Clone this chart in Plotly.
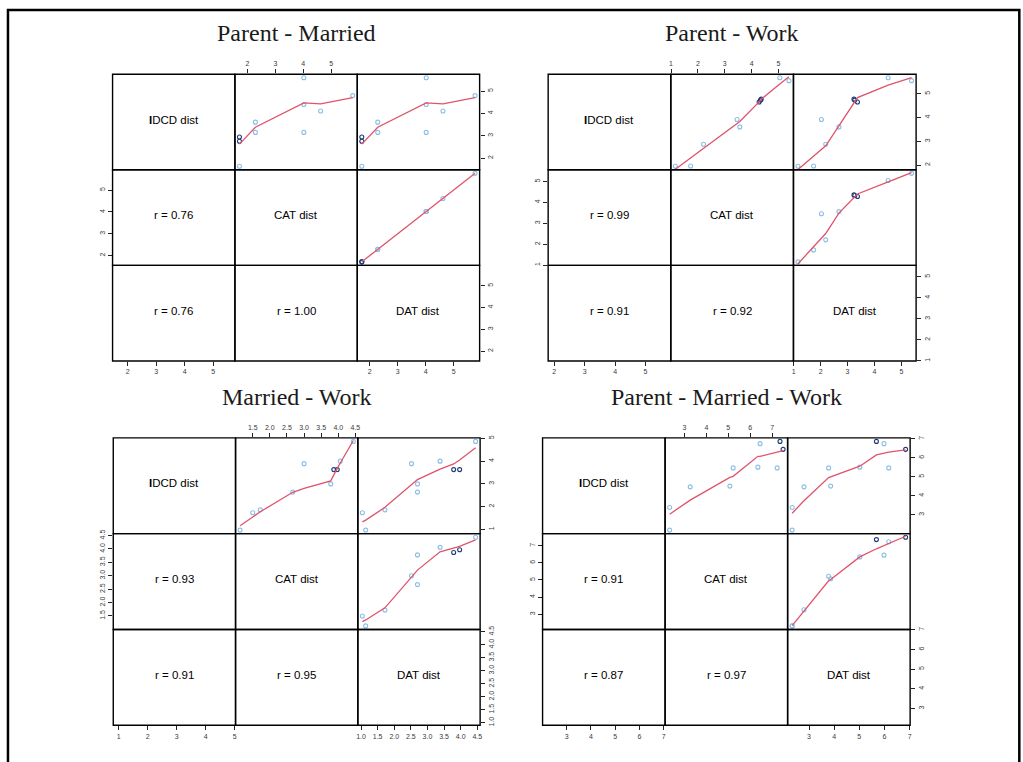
import numpy as np
import plotly.graph_objects as go

W, H = 1023, 762

# ---- Parent - Married ----
pm_idcd = [1.63, 2.75, 2.94, 3.15, 3.61, 3.15, 4.40, 5.60, 4.11, 4.80]
pm_cat = [1.715, 1.715, 1.715, 2.285, 2.285, 4.02, 4.02, 4.02, 4.62, 5.77]
pm_dat = [1.715, 1.715, 1.715, 2.285, 2.285, 4.02, 4.02, 4.02, 4.62, 5.77]
pm_flag = [0, 1, 1, 0, 0, 0, 0, 0, 0, 0]
pm_r = ["0.76", "0.76", "1.00"]
pm_ticks = (["2", "3", "4", "5"], ["2", "3", "4", "5"], ["2", "3", "4", "5"])

# ---- Parent - Work ----
pw_idcd = [1.95, 1.96, 2.88, 3.92, 3.61, 4.66, 4.74, 4.78, 5.68, 5.56]
pw_cat = [1.16, 1.73, 2.21, 3.46, 3.56, 4.28, 4.33, 4.36, 5.05, 5.39]
pw_dat = [1.16, 1.74, 2.19, 2.03, 2.68, 3.37, 3.27, 3.24, 4.51, 5.38]
pw_flag = [0, 0, 0, 0, 0, 1, 1, 1, 0, 0]
pw_r = ["0.99", "0.91", "0.92"]
pw_ticks = (["2", "3", "4", "5"], ["1", "2", "3", "4", "5"], ["1", "2", "3", "4", "5"])

# ---- Married - Work ----
mw_idcd = [0.97, 1.73, 1.86, 2.64, 3.89, 3.00, 3.63, 3.63, 4.00, 4.87]
mw_cat = [1.13, 1.50, 1.72, 2.67, 3.00, 3.78, 3.87, 3.97, 4.06, 4.44]
mw_dat = [1.14, 1.04, 1.72, 2.70, 2.52, 2.70, 3.79, 3.97, 3.38, 4.45]
mw_flag = [0, 0, 0, 0, 0, 0, 1, 1, 0, 0]
mw_r = ["0.93", "0.91", "0.95"]
mw_ticks = (["1", "2", "3", "4", "5"],
            ["1.5", "2.0", "2.5", "3.0", "3.5", "4.0", "4.5"],
            ["1.0", "1.5", "2.0", "2.5", "3.0", "3.5", "4.0", "4.5"])

# ---- Parent - Married - Work ----
pmw_idcd = [2.19, 3.38, 4.47, 4.51, 5.47, 5.51, 6.75, 5.47, 6.87, 6.45]
pmw_cat = [2.32, 2.32, 3.26, 5.07, 5.22, 6.35, 6.45, 7.23, 7.36, 7.50]
pmw_dat = [2.33, 2.33, 2.80, 3.86, 3.78, 5.02, 5.98, 6.17, 5.68, 6.84]
pmw_flag = [0, 0, 0, 0, 0, 0, 0, 0, 1, 1]
pmw_r = ["0.91", "0.87", "0.97"]
pmw_ticks = (["3", "4", "5", "6", "7"], ["3", "4", "5", "6", "7"], ["3", "4", "5", "6", "7"])

var_names = ["<b>I</b>DCD dist", "CAT dist", "DAT dist"]

LIGHT = "#8dbfe5"
DARK = "#1e3c78"
SMOOTH = "#DF536B"
SANS = "Liberation Sans, Arial, sans-serif"
SERIF = "Liberation Serif, Times New Roman, serif"


def _lowest(x, y, xs, nleft, nright, userw, rw):
    n = len(x)
    rng = x[-1] - x[0]
    h = max(xs - x[nleft], x[nright] - xs)
    h9, h1 = 0.999 * h, 0.001 * h
    w = np.zeros(n)
    a = 0.0
    j = nleft
    while j < n:
        r = abs(x[j] - xs)
        if r <= h9:
            w[j] = 1.0 if r <= h1 else (1 - (r / h) ** 3) ** 3
            if userw:
                w[j] *= rw[j]
            a += w[j]
        elif x[j] > xs:
            break
        j += 1
    nrt = j - 1
    if a <= 0:
        return None
    sl = slice(nleft, nrt + 1)
    w[sl] /= a
    if h > 0:
        a = np.sum(w[sl] * x[sl])
        b = xs - a
        c = np.sum(w[sl] * (x[sl] - a) ** 2)
        if np.sqrt(c) > 0.001 * rng:
            b /= c
            w[sl] *= b * (x[sl] - a) + 1
    return float(np.sum(w[sl] * y[sl]))


def lowess(x, y, f=2 / 3, nsteps=3):
    """Locally weighted scatterplot smoothing (same algorithm as R's lowess)."""
    x = np.asarray(x, float)
    y = np.asarray(y, float)
    o = np.argsort(x, kind="mergesort")
    x, y = x[o], y[o]
    n = len(x)
    ns = max(2, min(n, int(f * n + 1e-7)))
    delta = 0.01 * (x[-1] - x[0])
    ys = np.zeros(n)
    rw = np.ones(n)
    it = 1
    while it <= nsteps + 1:
        nleft, nright, last, i = 0, ns - 1, -1, 0
        while True:
            while nright < n - 1:
                d1 = x[i] - x[nleft]
                d2 = x[nright + 1] - x[i]
                if d1 <= d2:
                    break
                nleft += 1
                nright += 1
            val = _lowest(x, y, x[i], nleft, nright, it > 1, rw)
            ys[i] = y[i] if val is None else val
            if last < i - 1:
                denom = x[i] - x[last]
                for j in range(last + 1, i):
                    al = (x[j] - x[last]) / denom
                    ys[j] = al * ys[i] + (1 - al) * ys[last]
            last = i
            cut = x[last] + delta
            i = last + 1
            while i < n:
                if x[i] > cut:
                    break
                if x[i] == x[last]:
                    ys[i] = ys[last]
                    last = i
                i += 1
            i = max(last + 1, i - 1)
            if last >= n - 1:
                break
        res = y - ys
        sc = np.abs(res).sum() / n
        if it > nsteps:
            break
        ar = np.sort(np.abs(res))
        m1 = n // 2
        if n % 2 == 0:
            cmad = 3.0 * (ar[m1] + ar[n - m1 - 1])
        else:
            cmad = 6.0 * ar[m1]
        if cmad < 1e-7 * sc:
            break
        c9, c1 = 0.999 * cmad, 0.001 * cmad
        r = np.abs(res)
        rw = np.where(r <= c1, 1.0, np.where(r <= c9, (1 - (r / cmad) ** 2) ** 2, 0.0))
        it += 1
    return x, ys


def padded_range(v):
    lo, hi = min(v), max(v)
    d = hi - lo
    return [lo - 0.04 * d, hi + 0.04 * d]


panels = [
    dict(title="Parent - Married", vars=(pm_idcd, pm_cat, pm_dat), flag=pm_flag,
         r=pm_r, ticks=pm_ticks, box=(111.0, 70.7, 479.5, 359.3)),
    dict(title="Parent - Work", vars=(pw_idcd, pw_cat, pw_dat), flag=pw_flag,
         r=pw_r, ticks=pw_ticks, box=(548.3, 70.7, 917.7, 359.3)),
    dict(title="Married - Work", vars=(mw_idcd, mw_cat, mw_dat), flag=mw_flag,
         r=mw_r, ticks=mw_ticks, box=(111.7, 436.7, 480.0, 726.0)),
    dict(title="Parent - Married - Work", vars=(pmw_idcd, pmw_cat, pmw_dat), flag=pmw_flag,
         r=pmw_r, ticks=pmw_ticks, box=(542.7, 436.7, 911.7, 726.0)),
]

fig = go.Figure()
layout = {}
shapes = []
annotations = []
counter = [0]
tickfont = dict(family=SANS, size=7, color="#3a3a3a")


def px_x(v):
    return v / W


def px_y(v):
    return 1 - v / H


def make_axis(domain, rng, tick_labels=None, side=None, angle=None):
    ax = dict(domain=domain, range=rng, showgrid=False, zeroline=False,
              showline=False, fixedrange=True)
    if tick_labels:
        ax.update(tickmode="array", tickvals=[float(t) for t in tick_labels],
                  ticktext=tick_labels, ticks="outside", ticklen=4, tickwidth=1,
                  tickcolor="#222222", showticklabels=True, tickfont=tickfont,
                  side=side)
        if angle is not None:
            ax["tickangle"] = angle
    else:
        ax.update(showticklabels=False, ticks="")
    return ax


def add_cell(xd, yd, xr, yr, xticks=None, xside=None, yticks=None, yside=None):
    counter[0] += 1
    k = counter[0]
    sfx = "" if k == 1 else str(k)
    layout["xaxis" + sfx] = dict(make_axis(xd, xr, xticks, xside), anchor="y" + sfx)
    layout["yaxis" + sfx] = dict(make_axis(yd, yr, yticks, yside, angle=-90), anchor="x" + sfx)
    return "x" + sfx, "y" + sfx


def label(x, y, text, font):
    annotations.append(dict(x=px_x(x), y=px_y(y), xref="paper", yref="paper",
                            xanchor="center", yanchor="middle", text=text,
                            showarrow=False, font=font))


for p in panels:
    x0, y0, x1, y1 = p["box"]
    cw = (x1 - x0) / 3
    ch = (y1 - y0) / 3
    data = [np.asarray(v, float) for v in p["vars"]]
    ranges = [padded_range(v) for v in data]
    colors = [DARK if f else LIGHT for f in p["flag"]]

    def xdom(j):
        return [px_x(x0 + j * cw), px_x(x0 + (j + 1) * cw)]

    def ydom(i):
        return [px_y(y0 + (i + 1) * ch), px_y(y0 + i * ch)]

    # cell frames
    for i in range(3):
        for j in range(3):
            shapes.append(dict(type="rect", xref="paper", yref="paper",
                               x0=px_x(x0 + j * cw), x1=px_x(x0 + (j + 1) * cw),
                               y0=px_y(y0 + (i + 1) * ch), y1=px_y(y0 + i * ch),
                               line=dict(color="black", width=1.4)))

    # scatter cells above the diagonal, with axes on the outer margins
    for (i, j) in [(0, 1), (0, 2), (1, 2)]:
        kw = {}
        if (i, j) == (0, 1):
            kw = dict(xticks=p["ticks"][1], xside="top")
        if (i, j) == (0, 2):
            kw = dict(yticks=p["ticks"][0], yside="right")
        xa, ya = add_cell(xdom(j), ydom(i), ranges[j], ranges[i], **kw)
        fig.add_trace(go.Scatter(
            x=data[j], y=data[i], mode="markers", xaxis=xa, yaxis=ya,
            marker=dict(symbol="circle-open", size=4, color=colors,
                        line=dict(width=1.1)),
            showlegend=False, hoverinfo="skip"))
        sx, sy = lowess(data[j], data[i])
        fig.add_trace(go.Scatter(
            x=sx, y=sy, mode="lines", xaxis=xa, yaxis=ya,
            line=dict(color=SMOOTH, width=1.3),
            showlegend=False, hoverinfo="skip"))

    # margin axes on the remaining outer cells
    xa, ya = add_cell(xdom(0), ydom(2), ranges[0], [0, 1], xticks=p["ticks"][0], xside="bottom")
    fig.add_trace(go.Scatter(x=[], y=[], xaxis=xa, yaxis=ya, showlegend=False))
    xa, ya = add_cell(xdom(0), ydom(1), [0, 1], ranges[1], yticks=p["ticks"][1], yside="left")
    fig.add_trace(go.Scatter(x=[], y=[], xaxis=xa, yaxis=ya, showlegend=False))
    xa, ya = add_cell(xdom(2), ydom(2), ranges[2], ranges[2], xticks=p["ticks"][2], xside="bottom",
                      yticks=p["ticks"][2], yside="right")
    fig.add_trace(go.Scatter(x=[], y=[], xaxis=xa, yaxis=ya, showlegend=False))

    # diagonal names and correlation labels
    cell_font = dict(family=SANS, size=11.5, color="black")
    for d in range(3):
        label(x0 + (d + 0.5) * cw, y0 + (d + 0.5) * ch - 2.5, var_names[d], cell_font)
    for (i, j), rv in zip([(1, 0), (2, 0), (2, 1)], p["r"]):
        label(x0 + (j + 0.5) * cw, y0 + (i + 0.5) * ch - 2.5, "r = " + rv, cell_font)
    label((x0 + x1) / 2, y0 - 41.5, p["title"], dict(family=SERIF, size=24, color="#1a1a1a"))

# page frame
shapes.append(dict(type="rect", xref="paper", yref="paper",
                   x0=px_x(6), x1=px_x(1021.3), y0=px_y(800), y1=px_y(6),
                   line=dict(color="black", width=2.5)))

fig.update_layout(width=W, height=H, margin=dict(l=0, r=0, t=0, b=0),
                  paper_bgcolor="white", plot_bgcolor="rgba(0,0,0,0)",
                  shapes=shapes, annotations=annotations, showlegend=False,
                  **layout)
fig.write_html("out.html")
